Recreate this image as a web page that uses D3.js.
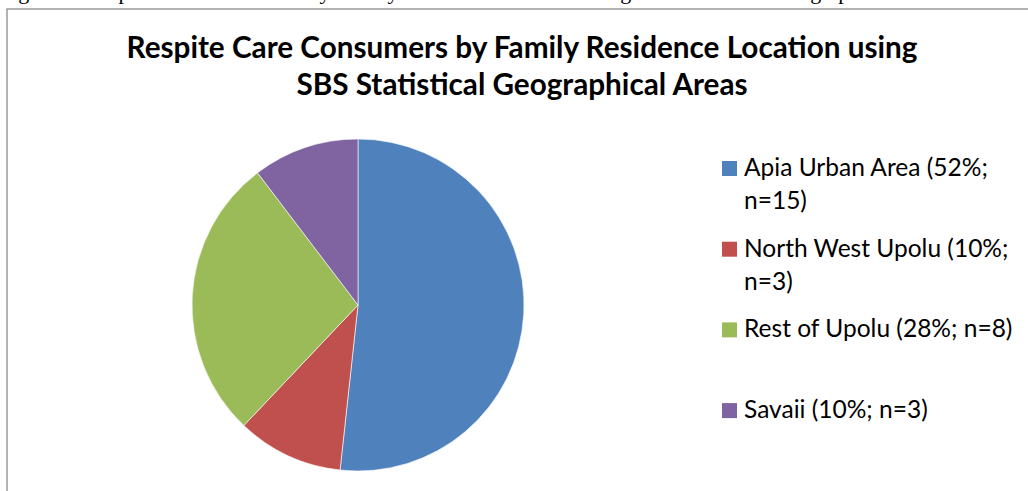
<!DOCTYPE html>
<html>
<head>
<meta charset="utf-8">
<script src="https://cdn.jsdelivr.net/npm/d3@7"></script>
<style>
  html, body { margin: 0; padding: 0; background: #fff; overflow: hidden; }
  svg { display: block; }
</style>
</head>
<body>
<svg id="chart" width="1028" height="491"></svg>
<script>
const captionText = "Figure 9: Respite Care Consumers by Family Residence Location using SBS Statistical Geographical Areas";
const titleLines = ["Respite Care Consumers by Family Residence Location using", "SBS Statistical Geographical Areas"];
const categories = ["Apia Urban Area", "North West Upolu", "Rest of Upolu", "Savaii"];
const counts = [15, 3, 8, 3];
const percents = [52, 10, 28, 10];
const colors = ["#4F81BD", "#C0504D", "#9BBB59", "#8064A2"];

const svg = d3.select("#chart");
const W = 1028, H = 491;
const FONT = "Lato, 'Open Sans', 'Noto Sans', sans-serif";

// cropped document caption above the chart frame
svg.append("text")
  .attr("x", 0).attr("y", -1)
  .attr("font-family", "'Liberation Serif', 'DejaVu Serif', serif")
  .attr("font-size", 22)
  .attr("fill", "#000")
  .text(captionText);

// chart frame (extends beyond right/bottom edge)
svg.append("rect")
  .attr("x", 7).attr("y", 9)
  .attr("width", 1100).attr("height", 600)
  .attr("fill", "#fff")
  .attr("stroke", "#8a8a8a").attr("stroke-width", 1.3);

function fitText(sel, targetWidth) {
  const w = sel.node().getComputedTextLength();
  const s = parseFloat(sel.attr("font-size"));
  sel.attr("font-size", s * targetWidth / w);
}

// title
const titleBase = [58, 95];
const titleWidths = [791, 456];
const tg = svg.append("g");
titleLines.forEach((t, i) => {
  const el = tg.append("text")
    .attr("x", 522).attr("y", titleBase[i])
    .attr("text-anchor", "middle")
    .attr("font-family", FONT).attr("font-weight", "bold")
    .attr("font-size", 24).attr("fill", "#000")
    .text(t);
  if (i === 0) fitText(el, titleWidths[0]);
});
const tSize = tg.select("text").attr("font-size");
tg.selectAll("text").attr("font-size", tSize);

// pie
const cx = 358, cy = 305, R = 166;
const pie = d3.pie().sort(null).value(d => d)(counts);
const arc = d3.arc().innerRadius(0).outerRadius(R);
svg.append("g").attr("transform", `translate(${cx},${cy})`)
  .selectAll("path").data(pie).join("path")
  .attr("d", arc)
  .attr("fill", (d, i) => colors[i])
  .attr("stroke", "#fff").attr("stroke-width", 0.6);

// legend
const legX = 722, legTop = 161, legStep = 80.7, sq = 15, lineH = 33, maxW = 282;
const lg = svg.append("g");
// determine legend font size from a reference width
const probe = lg.append("text").attr("font-family", FONT).attr("font-size", 22)
  .text(`${categories[0]} (${percents[0]}%;`);
fitText(probe, 244);
const legSize = +probe.attr("font-size");
probe.remove();

categories.forEach((c, i) => {
  const y0 = legTop + i * legStep;
  lg.append("rect").attr("x", legX).attr("y", y0).attr("width", sq).attr("height", sq)
    .attr("fill", colors[i]);
  const full = `${c} (${percents[i]}%; n=${counts[i]})`;
  const txt = lg.append("text")
    .attr("font-family", FONT).attr("font-size", legSize).attr("fill", "#000");
  let t1 = txt.append("tspan").attr("x", legX + 22).attr("y", y0 + sq).text(full);
  if (t1.node().getComputedTextLength() > maxW) {
    const cut = full.indexOf("; ") + 1;
    t1.text(full.slice(0, cut));
    txt.append("tspan").attr("x", legX + 22).attr("y", y0 + sq + lineH).text(full.slice(cut + 1));
  }
});
</script>
</body>
</html>
